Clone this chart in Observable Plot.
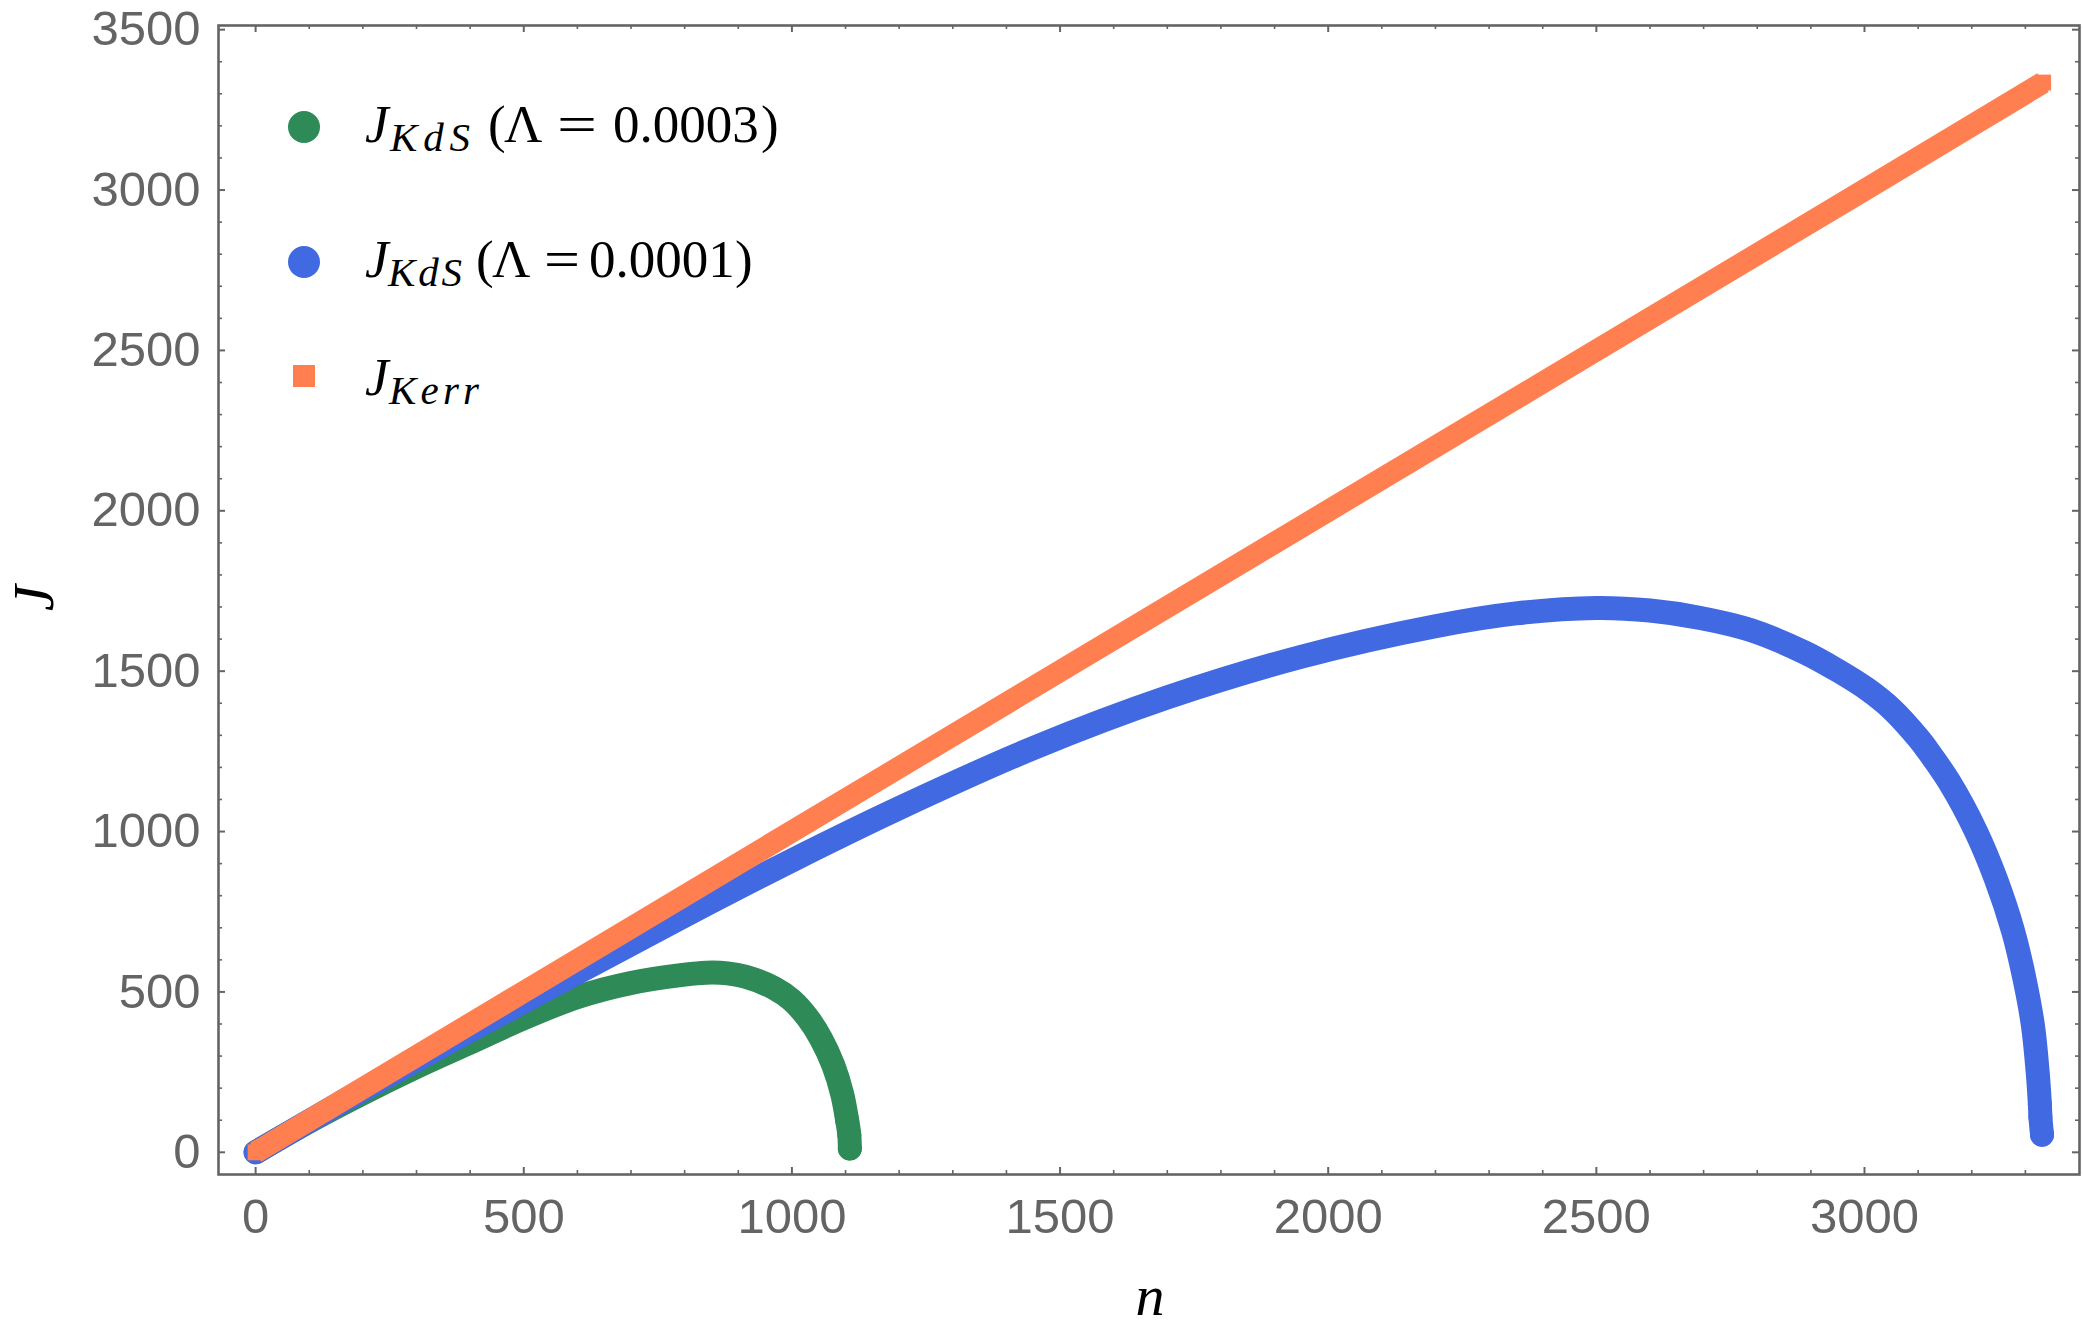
<!DOCTYPE html>
<html>
<head>
<meta charset="utf-8">
<script src="https://cdn.jsdelivr.net/npm/d3@7"></script>
<script src="https://cdn.jsdelivr.net/npm/@observablehq/plot@0.6"></script>
<style>
  html, body { margin: 0; padding: 0; background: #fff; }
  #chart { width: 2083px; height: 1340px; }
</style>
</head>
<body>
<div id="chart"></div>
<script>
// ---------- data ----------
// J_KdS, Lambda = 0.0003 (green)
const nGreen = [0, 100, 200, 300, 400, 500, 600, 700, 800, 840, 880, 912, 967, 1000, 1029, 1054, 1077, 1094, 1103, 1107, 1108];
const jGreen = [0, 96, 184, 266, 342, 418, 484, 528, 554, 560, 558, 548, 512, 474, 420, 355, 272, 180, 100, 55, 12];

// J_KdS, Lambda = 0.0001 (blue)
const nBlue = [0, 200, 400, 600, 800, 1000, 1200, 1450, 1700, 1950, 2200, 2350, 2500, 2600, 2694, 2788, 2889, 2950, 3004, 3052, 3101, 3117, 3158, 3208, 3245, 3277, 3298, 3314, 3323, 3327, 3328, 3331];
const jBlue = [0, 194, 380, 560, 738, 910, 1073, 1260, 1418, 1545, 1640, 1680, 1697, 1689, 1666, 1628, 1558, 1502, 1445, 1380, 1290, 1255, 1155, 1000, 852, 690, 543, 396, 248, 150, 111, 55];

// J_Kerr (orange)
const nKerr = [0, 500, 1000, 1500, 2000, 2500, 3000, 3333];
const jKerr = [0, 500, 1000, 1500, 2000, 2500, 3000, 3335];

// ticks
const xTicks = [0, 500, 1000, 1500, 2000, 2500, 3000];
const yTicks = [0, 500, 1000, 1500, 2000, 2500, 3000, 3500];
const xMinor = [100, 200, 300, 400, 600, 700, 800, 900, 1100, 1200, 1300, 1400, 1600, 1700, 1800, 1900, 2100, 2200, 2300, 2400, 2600, 2700, 2800, 2900, 3100, 3200, 3300];
const yMinor = [100, 200, 300, 400, 600, 700, 800, 900, 1100, 1200, 1300, 1400, 1600, 1700, 1800, 1900, 2100, 2200, 2300, 2400, 2600, 2700, 2800, 2900, 3100, 3200, 3300, 3400];

// legend and axis labels
const legendColors = ["#2E8B57", "#4169E1", "#FF7F50"];
const legendSubs = ["KdS", "KdS", "Kerr"];
const legendLambdas = ["0.0003", "0.0001", null];
const xLabel = "n";
const yLabel = "J";

// ---------- build ----------
const green = nGreen.map((n, i) => ({n, J: jGreen[i]}));
const blue = nBlue.map((n, i) => ({n, J: jBlue[i]}));
const kerr = nKerr.map((n, i) => ({n, J: jKerr[i]}));

const W = 2083, H = 1340;
const mL = 218, mR = 4, mT = 25, mB = 166;
const innerW = W - mL - mR, innerH = H - mT - mB;
const gray = "#646464";

const plot = Plot.plot({
  width: W,
  height: H,
  marginLeft: mL, marginRight: mR, marginTop: mT, marginBottom: mB,
  x: {domain: [-69.2, 3400.9], label: null},
  y: {domain: [-69.2, 3513], label: null},
  style: {background: "white", color: gray, fontFamily: "'Liberation Sans', Arial, sans-serif", fontSize: "49px", overflow: "visible"},
  marks: [
    Plot.line(green, {x: "n", y: "J", stroke: legendColors[0], strokeWidth: 24, strokeLinecap: "round", strokeLinejoin: "round", curve: "catmull-rom"}),
    Plot.dot(green.slice(-3), {x: "n", y: "J", r: 12, fill: legendColors[0]}),
    Plot.line(blue, {x: "n", y: "J", stroke: legendColors[1], strokeWidth: 24, strokeLinecap: "round", strokeLinejoin: "round", curve: "catmull-rom"}),
    Plot.dot(blue.slice(-3), {x: "n", y: "J", r: 12, fill: legendColors[1]}),
    Plot.line(kerr, {x: "n", y: "J", stroke: legendColors[2], strokeWidth: 22, strokeLinecap: "butt"}),
    Plot.dot([kerr[0], kerr[kerr.length - 1]], {x: "n", y: "J", symbol: "square", r: 9, fill: legendColors[2]}),
    Plot.frame({stroke: gray, strokeWidth: 2.6}),
    // inward ticks, all four sides
    Plot.tickX(xTicks, {x: d => d, insetTop: innerH - 7, stroke: gray, strokeWidth: 2}),
    Plot.tickX(xTicks, {x: d => d, insetBottom: innerH - 7, stroke: gray, strokeWidth: 2}),
    Plot.tickX(xMinor, {x: d => d, insetTop: innerH - 4, stroke: gray, strokeWidth: 1.6}),
    Plot.tickX(xMinor, {x: d => d, insetBottom: innerH - 4, stroke: gray, strokeWidth: 1.6}),
    Plot.tickY(yTicks, {y: d => d, insetRight: innerW - 7, stroke: gray, strokeWidth: 2}),
    Plot.tickY(yTicks, {y: d => d, insetLeft: innerW - 7, stroke: gray, strokeWidth: 2}),
    Plot.tickY(yMinor, {y: d => d, insetRight: innerW - 4, stroke: gray, strokeWidth: 1.6}),
    Plot.tickY(yMinor, {y: d => d, insetLeft: innerW - 4, stroke: gray, strokeWidth: 1.6}),
    Plot.axisX(xTicks, {anchor: "bottom", tickSize: 0, tickPadding: 24, tickFormat: d3.format("d"), label: null, fill: gray}),
    Plot.axisY(yTicks, {anchor: "left", tickSize: 0, tickPadding: 18, tickFormat: d3.format("d"), label: null, fill: gray})
  ]
});

document.getElementById("chart").appendChild(plot);

// ---------- legend and axis titles (text) ----------
const svg = d3.select(plot);
const serif = "'Liberation Serif', 'Times New Roman', serif";
const g = svg.append("g").attr("fill", "#000").attr("font-family", serif).attr("text-anchor", "start");

// axis titles
g.append("text").attr("x", 1150).attr("y", 1315).attr("text-anchor", "middle")
  .attr("font-size", 58).attr("font-style", "italic").text(xLabel);
g.append("text").attr("transform", "translate(53,598) rotate(-90)").attr("text-anchor", "middle")
  .attr("font-size", 58).attr("font-style", "italic").text(yLabel);

// legend rows
const rowY = [142, 277, 395];
const markX = 304;
const markY = [127, 262, 376];
const layouts = [
  {sub: 390, subLen: 80, open: 488, lam: 504, eq: 557, eqLen: 40, num: 613, close: 761},
  {sub: 388, subLen: 74, open: 476, lam: 492, eq: 544, eqLen: 36, num: 589, close: 735},
  {sub: 389, subLen: 90}
];
function piece(x, y, str, opts = {}) {
  const t = g.append("text").attr("x", x).attr("y", y)
    .attr("text-anchor", "start")
    .attr("font-size", opts.size || 53)
    .attr("font-style", opts.italic ? "italic" : "normal")
    .text(str);
  if (opts.len) t.attr("textLength", opts.len).attr("lengthAdjust", opts.adjust || "spacing");
  return t;
}
legendColors.forEach((c, i) => {
  if (i < 2) {
    g.append("circle").attr("cx", markX).attr("cy", markY[i]).attr("r", 16).attr("fill", c);
  } else {
    g.append("rect").attr("x", markX - 11).attr("y", markY[i] - 11).attr("width", 22).attr("height", 22).attr("fill", c);
  }
  const L = layouts[i];
  const y = rowY[i];
  piece(365, y, yLabel, {italic: true});
  piece(L.sub, y + 8.5, legendSubs[i], {italic: true, size: 41, len: L.subLen});
  if (legendLambdas[i]) {
    piece(L.open, y, "(");
    piece(L.lam, y, "Λ");
    piece(L.eq, y, "=", {len: L.eqLen, adjust: "spacingAndGlyphs"});
    piece(L.num, y, legendLambdas[i]);
    piece(L.close, y, ")");
  }
});
</script>
</body>
</html>
